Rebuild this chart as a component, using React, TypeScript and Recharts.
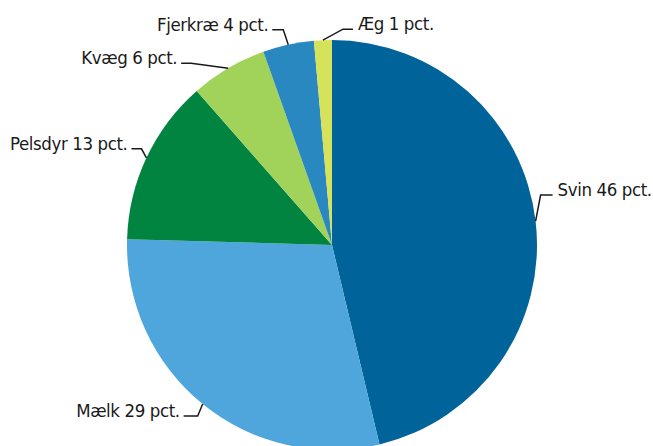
import React from "react";
import { PieChart, Pie, Cell } from "recharts";

const categories = ["Svin", "Mælk", "Pelsdyr", "Kvæg", "Fjerkræ", "Æg"];
const shares = [46, 29, 13, 6, 4, 1.4];
const colors = ["#00639a", "#4ea6dc", "#00843f", "#a1d25a", "#2a88c0", "#d5e25a"];

// elbow offset from the slice edge, horizontal run, side of text
const leaders: Record<string, { dx: number; dy: number; run: number }> = {
  Svin: { dx: 5, dy: -26, run: 12 },
  Mælk: { dx: -5, dy: 12, run: -14 },
  Pelsdyr: { dx: -5, dy: -9, run: -10 },
  Kvæg: { dx: -37, dy: -5, run: -10 },
  Fjerkræ: { dx: -5, dy: -15, run: -11 },
  Æg: { dx: 20, dy: -11, run: 10 },
};

const data = categories.map((name, i) => ({ name, value: shares[i] }));

const RADIAN = Math.PI / 180;

const renderLabel = (props: any) => {
  const { cx, cy, midAngle, outerRadius, name, value } = props;
  const ex = cx + outerRadius * Math.cos(-midAngle * RADIAN);
  const ey = cy + outerRadius * Math.sin(-midAngle * RADIAN);
  const l = leaders[name];
  const bx = ex + l.dx;
  const by = ey + l.dy;
  const hx = bx + l.run;
  const right = l.run > 0;
  return (
    <g>
      <polyline
        points={`${ex},${ey} ${bx},${by} ${hx},${by}`}
        fill="none"
        stroke="#1a1a1a"
        strokeWidth={1.5}
      />
      <text
        x={hx + (right ? 5 : -4)}
        y={by + 1}
        textAnchor={right ? "start" : "end"}
        fill="#1a1a1a"
        fontSize={18.5}
        letterSpacing={-0.4}
        fontFamily="'DejaVu Sans Condensed', 'Liberation Sans', sans-serif"
      >
        {`${name} ${Math.round(value)} pct.`}
      </text>
    </g>
  );
};

export default function App() {
  return (
    <div style={{ position: "fixed", left: 0, top: 0, background: "#fff" }}>
      <PieChart width={653} height={446} margin={{ top: 0, right: 0, bottom: 0, left: 0 }}>
        <Pie
          data={data}
          dataKey="value"
          nameKey="name"
          cx={332}
          cy={245}
          outerRadius={205}
          startAngle={90}
          endAngle={-270}
          stroke="none"
          label={renderLabel}
          labelLine={false}
          isAnimationActive={false}
        >
          {data.map((d, i) => (
            <Cell key={d.name} fill={colors[i]} />
          ))}
        </Pie>
      </PieChart>
    </div>
  );
}
